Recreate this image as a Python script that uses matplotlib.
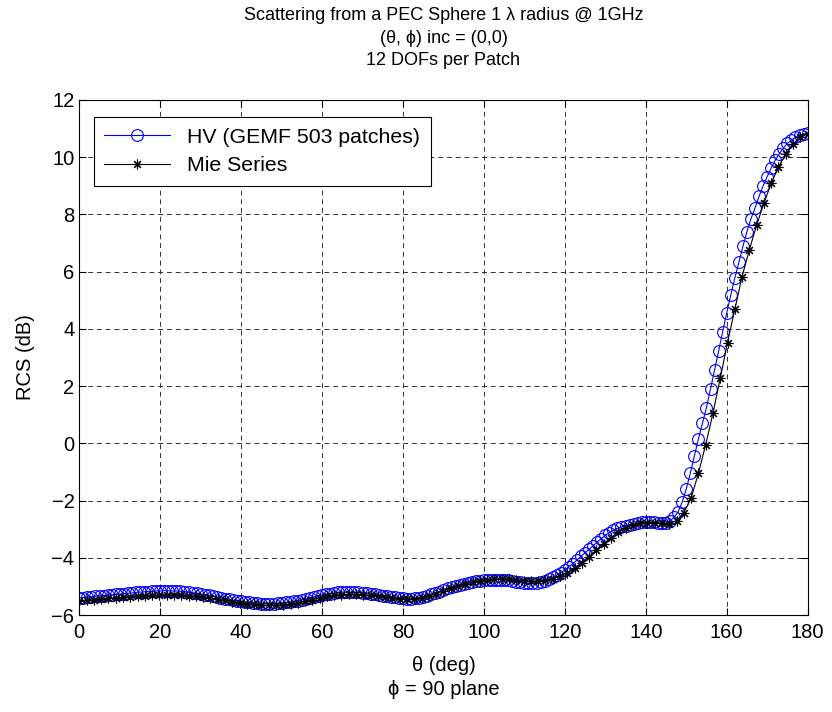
import numpy as np
import matplotlib
matplotlib.use("Agg")
import matplotlib.pyplot as plt

plt.rcParams['font.family'] = ['Liberation Sans', 'DejaVu Sans']

# angulos de observacao
theta_hv = np.arange(0, 181)          # passo de 1 grau
theta_mie = np.linspace(0, 180, 101)  # passo de 1.8 grau

# RCS (dB) - HV (GEMF 503 patches)
rcs_hv = [
    -5.40, -5.39, -5.37, -5.36, -5.34, -5.33, -5.32, -5.31, -5.29, -5.28,
    -5.27, -5.25, -5.24, -5.23, -5.21, -5.20, -5.19, -5.18, -5.17, -5.16,
    -5.16, -5.15, -5.15, -5.16, -5.16, -5.17, -5.18, -5.20, -5.22, -5.24,
    -5.26, -5.29, -5.31, -5.34, -5.37, -5.40, -5.43, -5.45, -5.48, -5.50,
    -5.52, -5.54, -5.56, -5.58, -5.59, -5.60, -5.60, -5.60, -5.60, -5.59,
    -5.58, -5.56, -5.54, -5.52, -5.50, -5.47, -5.44, -5.40, -5.37, -5.33,
    -5.30, -5.27, -5.25, -5.23, -5.21, -5.20, -5.20, -5.20, -5.21, -5.21,
    -5.22, -5.24, -5.26, -5.28, -5.30, -5.32, -5.34, -5.36, -5.38, -5.40,
    -5.42, -5.43, -5.43, -5.42, -5.40, -5.36, -5.32, -5.28, -5.23, -5.18,
    -5.12, -5.07, -5.02, -4.98, -4.94, -4.90, -4.87, -4.84, -4.82, -4.80,
    -4.78, -4.77, -4.76, -4.76, -4.76, -4.77, -4.79, -4.81, -4.84, -4.86,
    -4.88, -4.89, -4.89, -4.87, -4.84, -4.80, -4.74, -4.68, -4.61, -4.52,
    -4.42, -4.31, -4.20, -4.08, -3.95, -3.82, -3.70, -3.58, -3.45, -3.33,
    -3.22, -3.12, -3.04, -2.97, -2.92, -2.88, -2.84, -2.81, -2.78, -2.76,
    -2.75, -2.75, -2.76, -2.78, -2.80, -2.80, -2.72, -2.58, -2.40, -2.05,
    -1.60, -1.05, -0.45, 0.15, 0.70, 1.25, 1.90, 2.56, 3.22, 3.90,
    4.55, 5.18, 5.77, 6.32, 6.88, 7.40, 7.85, 8.22, 8.63, 9.00,
    9.32, 9.62, 9.90, 10.12, 10.32, 10.48, 10.60, 10.70, 10.77, 10.81,
    10.83,
]

# RCS (dB) - Mie Series
rcs_mie = [
    -5.50, -5.48, -5.46, -5.44, -5.42, -5.40, -5.38, -5.36, -5.34, -5.32,
    -5.31, -5.30, -5.29, -5.29, -5.30, -5.32, -5.34, -5.37, -5.41, -5.45,
    -5.49, -5.53, -5.57, -5.60, -5.63, -5.65, -5.66, -5.66, -5.64, -5.61,
    -5.57, -5.52, -5.46, -5.40, -5.35, -5.31, -5.29, -5.28, -5.28, -5.29,
    -5.31, -5.34, -5.37, -5.40, -5.43, -5.44, -5.43, -5.39, -5.33, -5.25,
    -5.16, -5.07, -4.99, -4.92, -4.86, -4.81, -4.77, -4.75, -4.74, -4.75,
    -4.77, -4.80, -4.82, -4.82, -4.79, -4.73, -4.64, -4.52, -4.36, -4.17,
    -3.96, -3.74, -3.52, -3.30, -3.11, -2.96, -2.86, -2.80, -2.77, -2.77,
    -2.80, -2.82, -2.70, -2.42, -1.92, -1.05, -0.05, 1.05, 2.27, 3.52,
    4.68, 5.83, 6.76, 7.63, 8.39, 9.09, 9.65, 10.12, 10.47, 10.70,
    10.82,
]

xticks = list(range(0, 181, 20))
yticks = list(range(-6, 13, 2))

fig = plt.figure(figsize=(8.32, 7.12), dpi=100)
ax = fig.add_axes([0.0953, 0.1362, 0.8754, 0.7234])

ax.plot(theta_hv, rcs_hv, color='blue', lw=0.8, marker='o', markersize=8.5,
        markerfacecolor='none', markeredgecolor='blue', markeredgewidth=0.8,
        label='HV (GEMF 503 patches)')
ax.plot(theta_mie, rcs_mie, color='black', lw=0.8, marker=(8, 2, 0),
        markersize=7, markeredgewidth=0.8, label='Mie Series')

ax.set_xlim(0, 180)
ax.set_ylim(-6, 12)
ax.set_xticks(xticks)
ax.set_yticks(yticks)
ax.tick_params(direction='in', top=True, right=True, labelsize=14.5,
               length=5, width=0.8)
ax.tick_params(axis='x', pad=6)
for s in ax.spines.values():
    s.set_linewidth(0.8)

ax.grid(True, color='#303030', lw=0.7, linestyle=(0, (5, 4)))

ax.set_title('Scattering from a PEC Sphere 1 \u03bb radius @ 1GHz\n'
             '(\u03b8, \u03d5) inc = (0,0)\n12 DOFs per Patch',
             fontsize=13, linespacing=1.42, pad=25)
ax.set_xlabel('\u03b8 (deg)\n\u03d5 = 90 plane', fontsize=14.5,
              linespacing=1.3, labelpad=10)
ax.set_ylabel('RCS (dB)', fontsize=14.5, labelpad=12)

leg = ax.legend(loc='upper left', bbox_to_anchor=(0.02, 0.967),
                borderaxespad=0, fontsize=15.3, fancybox=False, framealpha=1,
                edgecolor='black', handlelength=3.1, handletextpad=0.8,
                borderpad=0.5, labelspacing=0.45)
leg.get_frame().set_linewidth(0.8)

fig.savefig('out.png', dpi=100)
